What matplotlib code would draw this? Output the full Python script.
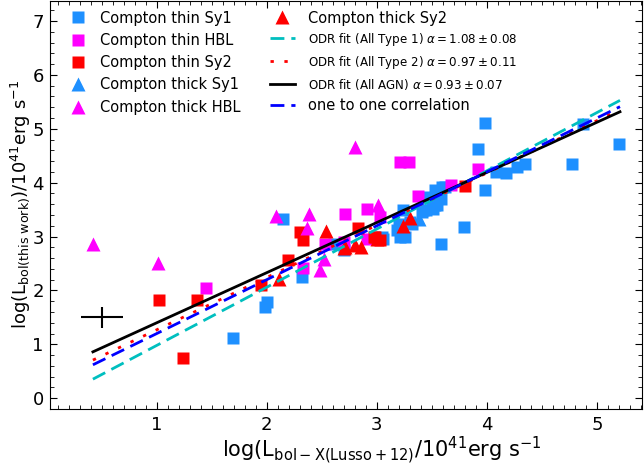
import matplotlib
matplotlib.use('Agg')
import matplotlib.pyplot as plt
import numpy as np
from matplotlib.ticker import MultipleLocator

# ----------------------------------------------------------------------------
# data (x = log Lbol-X Lusso+12, y = log Lbol this work)
# ----------------------------------------------------------------------------
thin_sy1_x = [1.69, 1.985, 2.00, 2.32, 2.15, 2.70, 2.61, 3.05, 3.18, 3.985, 3.92,
              5.20, 4.87, 4.77, 4.35, 4.27, 4.17, 4.08, 3.98, 3.79, 3.58, 3.53,
              3.56, 3.51, 3.42, 3.24, 3.21, 3.23, 3.32, 3.06, 3.62, 3.59, 3.45,
              3.50, 3.55, 3.45, 3.41, 3.58, 3.26, 3.20, 3.30]
thin_sy1_y = [1.12, 1.70, 1.79, 2.25, 3.32, 2.75, 2.87, 2.99, 3.12, 5.10, 4.63,
              4.71, 5.08, 4.34, 4.35, 4.29, 4.17, 4.20, 3.86, 3.18, 2.87, 3.86,
              3.73, 3.52, 3.49, 3.49, 2.99, 3.12, 3.24, 2.96, 3.92, 3.92, 3.73,
              3.67, 3.58, 3.49, 3.46, 3.70, 2.99, 3.24, 3.27]

thin_hbl_x = [1.445, 2.33, 2.71, 2.91, 3.03, 3.21, 3.29, 3.92, 3.67, 3.37,
              2.53, 2.70, 2.91]
thin_hbl_y = [2.05, 2.41, 3.41, 3.52, 3.36, 4.38, 4.38, 4.26, 3.96, 3.75,
              2.87, 2.90, 2.96]

thin_sy2_x = [1.02, 1.37, 1.24, 1.95, 2.19, 2.30, 2.33, 2.83, 2.97, 2.985,
              3.03, 3.80]
thin_sy2_y = [1.82, 1.82, 0.74, 2.11, 2.56, 3.09, 2.93, 3.15, 2.99, 2.99,
              2.93, 3.93]

thick_sy1_x = [3.38, 3.52]
thick_sy1_y = [3.33, 3.60]

thick_hbl_x = [0.42, 1.01, 2.08, 2.38, 2.37, 2.80, 2.52, 2.48, 3.01]
thick_hbl_y = [2.86, 2.50, 3.38, 3.41, 3.16, 4.66, 2.59, 2.37, 3.58]

thick_sy2_x = [2.11, 2.54, 2.80, 2.86, 3.00, 2.71, 3.24, 3.30, 2.70]
thick_sy2_y = [2.22, 3.10, 2.84, 2.81, 2.96, 2.81, 3.19, 3.35, 2.78]

# fitted lines: slope, intercept
fit_x = [0.42, 5.21]
fit_type1 = (1.08, -0.10)
fit_type2 = (0.97, 0.30)
fit_all = (0.93, 0.47)
one2one = (1.00, 0.20)

# typical error
err_x, err_y = 0.5, 1.5
err_dx, err_dy = 0.19, 0.20

#------------------------------------------------------------------------------
fig = plt.figure(figsize=(6.44, 4.66), dpi=100)
ax = fig.add_axes([50/644, 57/466, 592/644, 408.5/466])

blue = '#1E90FF'
ms = 8.5
h = []
h += ax.plot(thin_sy1_x, thin_sy1_y, 's', color=blue, ms=ms, mec='none',
             label='Compton thin Sy1')
h += ax.plot(thin_hbl_x, thin_hbl_y, 's', color='magenta', ms=ms, mec='none',
             label='Compton thin HBL')
h += ax.plot(thin_sy2_x, thin_sy2_y, 's', color='red', ms=ms, mec='none',
             label='Compton thin Sy2')
h += ax.plot(thick_sy1_x, thick_sy1_y, '^', color=blue, ms=ms+1, mec='none',
             label='Compton thick Sy1')
h += ax.plot(thick_hbl_x, thick_hbl_y, '^', color='magenta', ms=ms+1,
             mec='none', label='Compton thick HBL')
h += ax.plot(thick_sy2_x, thick_sy2_y, '^', color='red', ms=ms+1, mec='none',
             label='Compton thick Sy2')

xx = np.array(fit_x)
h += ax.plot(xx, fit_type1[0]*xx + fit_type1[1], '--', color='c', lw=2,
             dashes=(5, 2.5),
             label=r'ODR fit (All Type 1) $\alpha=1.08\pm0.08$')
h += ax.plot(xx, fit_type2[0]*xx + fit_type2[1], ':', color='red', lw=2,
             dashes=(1.2, 3.8),
             label=r'ODR fit (All Type 2) $\alpha=0.97\pm0.11$')
h += ax.plot(xx, fit_all[0]*xx + fit_all[1], '-', color='k', lw=2,
             label=r'ODR fit (All AGN) $\alpha=0.93\pm0.07$')
h += ax.plot(xx, one2one[0]*xx + one2one[1], '--', color='blue', lw=2,
             dashes=(5, 2.5), label='one to one correlation')

ax.errorbar(err_x, err_y, xerr=err_dx, yerr=err_dy, color='k', lw=1.5,
            capsize=0)

ax.set_xlim(0.03, 5.41)
ax.set_ylim(-0.2, 7.38)
ax.xaxis.set_major_locator(MultipleLocator(1))
ax.xaxis.set_minor_locator(MultipleLocator(0.1))
ax.yaxis.set_major_locator(MultipleLocator(1))
ax.yaxis.set_minor_locator(MultipleLocator(0.2))
ax.tick_params(which='both', direction='in', top=True, right=True,
               labelsize=13)
ax.tick_params(axis='x', pad=5)
ax.tick_params(axis='y', pad=4.5)
ax.tick_params(which='major', length=5)
ax.tick_params(which='minor', length=3)

ax.set_xlabel(r'$\rm log(L_{bol-X(Lusso+12)}/10^{41}erg\ s^{-1}$', size=15)
ax.xaxis.set_label_coords(0.561, -0.061)
ax.set_ylabel(r'$\rm log(L_{bol(this\ work)})/10^{41}erg\ s^{-1}$', size=13,
              labelpad=0.5)

# legend: two columns built as two legends so row heights can be matched
labs = [l.get_label() for l in h]
leg1 = ax.legend(h[:5], labs[:5], loc='upper left',
                 bbox_to_anchor=(0.0264, 0.9755), borderaxespad=0,
                 borderpad=0, frameon=False, fontsize=10.5, handlelength=1.7,
                 handletextpad=0.66, labelspacing=0.5, numpoints=1)
ax.add_artist(leg1)
leg2 = ax.legend(h[5:], labs[5:], loc='upper left',
                 bbox_to_anchor=(0.3716, 0.9755), borderaxespad=0,
                 borderpad=0, frameon=False, fontsize=10.5, handlelength=1.71,
                 handletextpad=0.89, labelspacing=0.41, numpoints=1)
for t in leg2.get_texts()[1:4]:
    t.set_fontsize(8.6)

fig.savefig('out.png', dpi=100)
